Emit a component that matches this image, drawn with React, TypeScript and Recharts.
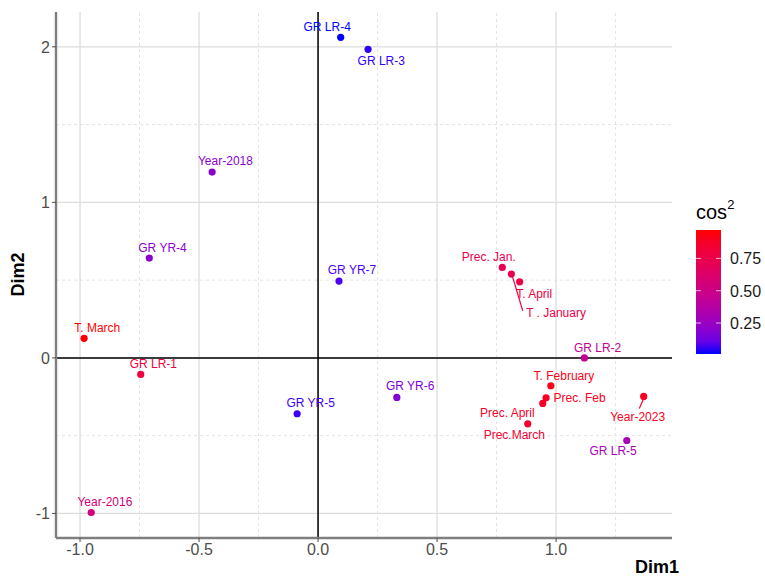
import React from 'react';
import { ScatterChart, Scatter, XAxis, YAxis, ReferenceLine } from 'recharts';

// ---- data ----
const names = [
  'GR LR-4', 'GR LR-3', 'Year-2018', 'GR YR-4', 'GR YR-7', 'T. March', 'GR LR-1', 'GR YR-5', 'GR YR-6', 'Year-2016',
  'Prec. Jan.', 'T . January', 'T. April', 'GR LR-2', 'T. February', 'Prec. Feb', 'Prec. April', 'Prec.March', 'Year-2023', 'GR LR-5',
];
const dim1 = [0.095, 0.21, -0.445, -0.709, 0.088, -0.983, -0.745, -0.088, 0.331, -0.953,
  0.774, 0.812, 0.847, 1.119, 0.978, 0.958, 0.944, 0.881, 1.368, 1.297];
const dim2 = [2.061, 1.984, 1.195, 0.642, 0.494, 0.126, -0.106, -0.359, -0.254, -0.994,
  0.582, 0.539, 0.489, 0.0, -0.179, -0.257, -0.293, -0.424, -0.248, -0.531];
const cos2 = [0.01, 0.03, 0.2, 0.2, 0.06, 0.97, 0.8, 0.04, 0.17, 0.55,
  0.72, 0.75, 0.78, 0.45, 0.93, 0.9, 0.88, 0.85, 0.9, 0.3];

const xTicks = [-1.0, -0.5, 0.0, 0.5, 1.0];
const yTicks = [-1, 0, 1, 2];
const xMinor = [-0.75, -0.25, 0.25, 0.75, 1.25];
const yMinor = [-0.5, 0.5, 1.5];
const legendTicks = [0.25, 0.5, 0.75];

// ---- label placement (ggrepel-like offsets, px) ----
const labelOffsets: Record<string, { dx: number; dy: number; seg?: [number, number, number, number] }> = {
  'GR LR-4': { dx: -13.5, dy: -10.6 },
  'GR LR-3': { dx: 13.2, dy: 11.7 },
  'Year-2018': { dx: 13.3, dy: -11 },
  'GR YR-4': { dx: 13.2, dy: -10.3 },
  'GR YR-7': { dx: 13, dy: -11.5 },
  'T. March': { dx: 13.2, dy: -11 },
  'GR LR-1': { dx: 12.6, dy: -10.3 },
  'GR YR-5': { dx: 13.5, dy: -11.4 },
  'GR YR-6': { dx: 13.3, dy: -11.3 },
  'Year-2016': { dx: 13.7, dy: -10.3 },
  'Prec. Jan.': { dx: -13.5, dy: -10.3 },
  'T . January': { dx: 44.7, dy: 38.7, seg: [1, 2, 11.4, 36.7] },
  'T. April': { dx: 14.5, dy: 11.6 },
  'GR LR-2': { dx: 13.2, dy: -10.4 },
  'T. February': { dx: 13.1, dy: -10 },
  'Prec. Feb': { dx: 33.5, dy: 0 },
  'Prec. April': { dx: -35.4, dy: 9.7 },
  'Prec.March': { dx: -13.4, dy: 11.3 },
  'Year-2023': { dx: -6, dy: 20.4, seg: [-0.4, 3, -4.4, 12] },
  'GR LR-5': { dx: -13.7, dy: 10.4 },
};

// ---- colour scale (Lab interpolation blue -> red, like ggplot) ----
function lin(c: number) { c /= 255; return c <= 0.04045 ? c / 12.92 : Math.pow((c + 0.055) / 1.055, 2.4); }
function unlin(c: number) { const v = c <= 0.0031308 ? 12.92 * c : 1.055 * Math.pow(c, 1 / 2.4) - 0.055; return Math.max(0, Math.min(255, Math.round(v * 255))); }
const Xn = 0.95047, Yn = 1, Zn = 1.08883;
function f(t: number) { return t > 0.008856 ? Math.cbrt(t) : 7.787 * t + 16 / 116; }
function finv(t: number) { const t3 = t * t * t; return t3 > 0.008856 ? t3 : (t - 16 / 116) / 7.787; }
function toLab(r: number, g: number, b: number) {
  const R = lin(r), G = lin(g), B = lin(b);
  const X = 0.4124 * R + 0.3576 * G + 0.1805 * B;
  const Y = 0.2126 * R + 0.7152 * G + 0.0722 * B;
  const Z = 0.0193 * R + 0.1192 * G + 0.9505 * B;
  const fx = f(X / Xn), fy = f(Y / Yn), fz = f(Z / Zn);
  return [116 * fy - 16, 500 * (fx - fy), 200 * (fy - fz)];
}
function fromLab(L: number, a: number, bb: number) {
  const fy = (L + 16) / 116, fx = fy + a / 500, fz = fy - bb / 200;
  const X = Xn * finv(fx), Y = Yn * finv(fy), Z = Zn * finv(fz);
  const R = 3.2406 * X - 1.5372 * Y - 0.4986 * Z;
  const G = -0.9689 * X + 1.8758 * Y + 0.0415 * Z;
  const B = 0.0557 * X - 0.204 * Y + 1.057 * Z;
  return `rgb(${unlin(R)},${unlin(G)},${unlin(B)})`;
}
const LOW = toLab(0, 0, 255);
const HIGH = toLab(255, 0, 0);
const cMin = Math.min(...cos2);
const cMax = Math.max(...cos2);
function colorAt(t: number) {
  t = Math.max(0, Math.min(1, t));
  return fromLab(LOW[0] + (HIGH[0] - LOW[0]) * t, LOW[1] + (HIGH[1] - LOW[1]) * t, LOW[2] + (HIGH[2] - LOW[2]) * t);
}
function colorFor(v: number) { return colorAt((v - cMin) / (cMax - cMin)); }

const rows = names.map((n, i) => ({ name: n, x: dim1[i], y: dim2[i], cos2: cos2[i] }));

const W = 765, H = 580;
const M = { top: 12, right: 93, bottom: 12, left: 10 };
const FONT = 'Liberation Sans, Arial, sans-serif';

const PointShape = (props: any) => {
  const { cx, cy, payload } = props;
  if (cx == null || cy == null) return null;
  const col = colorFor(payload.cos2);
  const o = labelOffsets[payload.name] || { dx: 13, dy: -11 };
  return (
    <g>
      {o.seg && (
        <line x1={cx + o.seg[0]} y1={cy + o.seg[1]} x2={cx + o.seg[2]} y2={cy + o.seg[3]} stroke={col} strokeWidth={1.2} />
      )}
      <circle cx={cx} cy={cy} r={3.6} fill={col} />
      <text x={cx + o.dx} y={cy + o.dy + 4.3} textAnchor="middle" fontSize={12} fontFamily={FONT} fill={col}>
        {payload.name}
      </text>
    </g>
  );
};

// legend geometry
const LG = { x: 696, y: 230, w: 25, h: 124 };
const legendY = (v: number) => LG.y + LG.h - ((v - cMin) / (cMax - cMin)) * LG.h;
const gradStops = Array.from({ length: 11 }, (_, i) => i / 10);

export default function App() {
  return (
    <div style={{ position: 'absolute', left: 0, top: 0, width: W, height: H, background: '#fff' }}>
      <ScatterChart width={W} height={H} margin={M}>
        {xMinor.map((v) => (
          <ReferenceLine key={'xm' + v} x={v} stroke="#E3E3E3" strokeDasharray="3 3" strokeWidth={1} />
        ))}
        {yMinor.map((v) => (
          <ReferenceLine key={'ym' + v} y={v} stroke="#E3E3E3" strokeDasharray="3 3" strokeWidth={1} />
        ))}
        {xTicks.map((v) => (
          <ReferenceLine key={'xg' + v} x={v} stroke="#DDDDDD" strokeWidth={1.3} />
        ))}
        {yTicks.map((v) => (
          <ReferenceLine key={'yg' + v} y={v} stroke="#DDDDDD" strokeWidth={1.3} />
        ))}
        <XAxis
          type="number"
          dataKey="x"
          domain={[-1.101, 1.487]}
          allowDataOverflow
          ticks={xTicks}
          tickFormatter={(v: number) => v.toFixed(1)}
          height={30}
          tickSize={4}
          tickMargin={2}
          axisLine={{ stroke: '#7F7F7F', strokeWidth: 2.4 }}
          tickLine={{ stroke: '#4D4D4D' }}
          tick={{ fill: '#4D4D4D', fontSize: 16, fontFamily: FONT }}
        />
        <YAxis
          type="number"
          dataKey="y"
          domain={[-1.158, 2.224]}
          allowDataOverflow
          ticks={yTicks}
          width={46}
          tickSize={4}
          tickMargin={2}
          axisLine={{ stroke: '#7F7F7F', strokeWidth: 2.4 }}
          tickLine={{ stroke: '#4D4D4D' }}
          tick={{ fill: '#4D4D4D', fontSize: 16, fontFamily: FONT }}
        />
        <ReferenceLine x={0} stroke="#000" strokeWidth={1.5} />
        <ReferenceLine y={0} stroke="#000" strokeWidth={1.5} />
        <Scatter data={rows} isAnimationActive={false} shape={PointShape} />
      </ScatterChart>
      <svg width={W} height={H} style={{ position: 'absolute', left: 0, top: 0, pointerEvents: 'none' }}>
        <defs>
          <linearGradient id="cosgrad" x1="0" y1="1" x2="0" y2="0">
            {gradStops.map((t) => (
              <stop key={t} offset={t} stopColor={colorAt(t)} />
            ))}
          </linearGradient>
        </defs>
        <text x={18} y={274.5} transform="rotate(-90 18 274.5)" textAnchor="middle" dominantBaseline="central" fontSize={18} fontWeight="bold" fontFamily={FONT} fill="#000">
          Dim2
        </text>
        <text x={679} y={573} textAnchor="end" fontSize={18} fontWeight="bold" fontFamily={FONT} fill="#000">
          Dim1
        </text>
        <text x={696} y={219} fontSize={20} fontFamily={FONT} fill="#000">
          cos<tspan fontSize={13} dy={-10}>2</tspan>
        </text>
        <rect x={LG.x} y={LG.y} width={LG.w} height={LG.h} fill="url(#cosgrad)" />
        {legendTicks.map((v) => (
          <g key={v}>
            <line x1={LG.x} x2={LG.x + 5} y1={legendY(v)} y2={legendY(v)} stroke="#fff" strokeWidth={1} opacity={0.7} />
            <line x1={LG.x + LG.w - 5} x2={LG.x + LG.w} y1={legendY(v)} y2={legendY(v)} stroke="#fff" strokeWidth={1} opacity={0.7} />
            <text x={730} y={legendY(v) + 6} fontSize={16} fontFamily={FONT} fill="#1a1a1a">
              {v.toFixed(2)}
            </text>
          </g>
        ))}
      </svg>
    </div>
  );
}
